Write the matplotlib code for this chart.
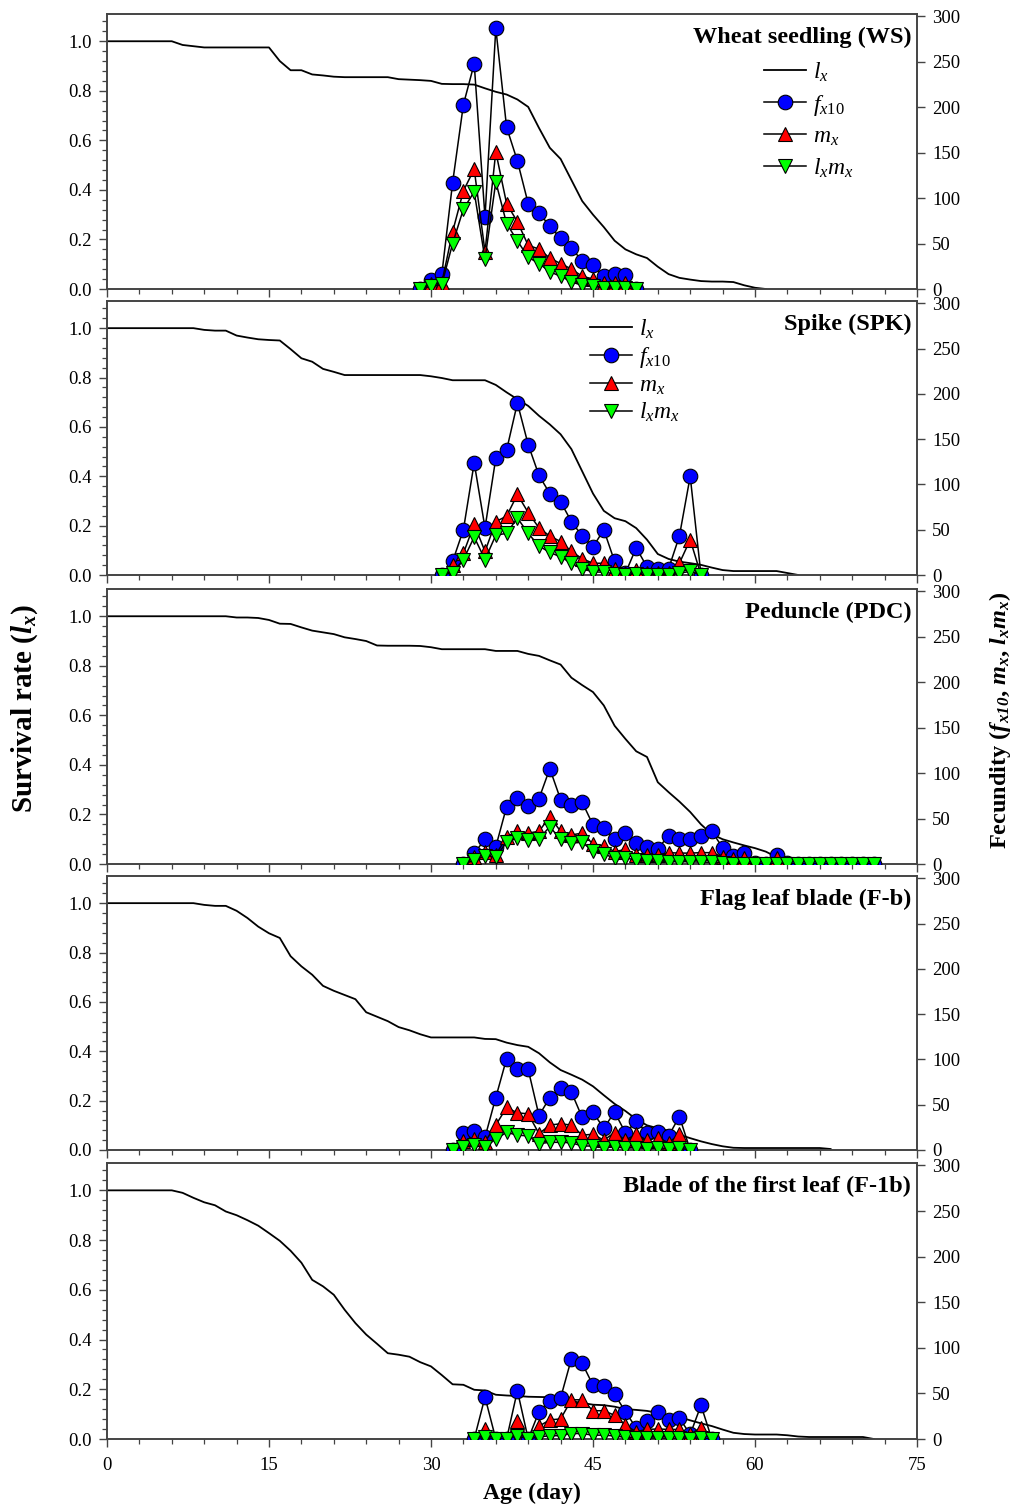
import numpy as np
import matplotlib
matplotlib.use('Agg')
import matplotlib.pyplot as plt
from matplotlib.ticker import MultipleLocator, FormatStrFormatter

# ---------------- data ----------------
titles = ["Wheat seedling (WS)", "Spike (SPK)", "Peduncle (PDC)",
          "Flag leaf blade (F-b)", "Blade of the first leaf (F-1b)"]

# survival rate l_x, one value per day starting at day 0
ws_lx = [1.0, 1.0, 1.0, 1.0, 1.0, 1.0, 1.0, 0.985, 0.98, 0.975,
         0.975, 0.975, 0.975, 0.975, 0.975, 0.975, 0.92, 0.883, 0.883, 0.866,
         0.862, 0.857, 0.855, 0.855, 0.855, 0.855, 0.855, 0.847, 0.845, 0.843,
         0.84, 0.828, 0.827, 0.827, 0.825, 0.81, 0.796, 0.785, 0.765, 0.735,
         0.65, 0.57, 0.525, 0.44, 0.355, 0.30, 0.25, 0.195, 0.16, 0.14,
         0.125, 0.09, 0.06, 0.045, 0.038, 0.032, 0.03, 0.03, 0.028, 0.015,
         0.005, 0.0]
spk_lx = [1.0, 1.0, 1.0, 1.0, 1.0, 1.0, 1.0, 1.0, 1.0, 0.993,
          0.99, 0.99, 0.97, 0.962, 0.955, 0.952, 0.95, 0.915, 0.878, 0.864,
          0.835, 0.823, 0.81, 0.81, 0.81, 0.81, 0.81, 0.81, 0.81, 0.81,
          0.805, 0.798, 0.789, 0.789, 0.789, 0.789, 0.77, 0.74, 0.712, 0.685,
          0.645, 0.61, 0.57, 0.51, 0.42, 0.33, 0.26, 0.23, 0.218, 0.19,
          0.143, 0.085, 0.065, 0.054, 0.048, 0.041, 0.03, 0.02, 0.016, 0.016,
          0.016, 0.016, 0.016, 0.008, 0.0]
pdc_lx = [1.0, 1.0, 1.0, 1.0, 1.0, 1.0, 1.0, 1.0, 1.0, 1.0,
          1.0, 1.0, 0.995, 0.995, 0.993, 0.985, 0.97, 0.969, 0.955, 0.942,
          0.935, 0.928, 0.915, 0.908, 0.9, 0.882, 0.881, 0.881, 0.881, 0.88,
          0.875, 0.867, 0.867, 0.867, 0.867, 0.867, 0.86, 0.86, 0.86, 0.848,
          0.84, 0.822, 0.805, 0.752, 0.722, 0.694, 0.64, 0.558, 0.505, 0.455,
          0.432, 0.33, 0.29, 0.252, 0.21, 0.16, 0.12, 0.1, 0.087, 0.075,
          0.064, 0.05, 0.028, 0.008, 0.0]
fb_lx = [1.0, 1.0, 1.0, 1.0, 1.0, 1.0, 1.0, 1.0, 1.0, 0.993,
         0.989, 0.989, 0.969, 0.94, 0.905, 0.878, 0.859, 0.785, 0.744, 0.71,
         0.665, 0.645, 0.628, 0.611, 0.558, 0.54, 0.522, 0.498, 0.485, 0.469,
         0.456, 0.456, 0.456, 0.456, 0.456, 0.45, 0.449, 0.435, 0.425, 0.418,
         0.392, 0.355, 0.324, 0.305, 0.285, 0.258, 0.222, 0.187, 0.158, 0.125,
         0.1, 0.088, 0.078, 0.062, 0.048, 0.035, 0.024, 0.015, 0.009, 0.008,
         0.008, 0.008, 0.008, 0.008, 0.008, 0.008, 0.008, 0.004]
f1b_lx = [1.0, 1.0, 1.0, 1.0, 1.0, 1.0, 1.0, 0.99, 0.97, 0.952,
          0.94, 0.915, 0.9, 0.88, 0.858, 0.828, 0.797, 0.757, 0.709, 0.64,
          0.614, 0.58, 0.52, 0.466, 0.42, 0.383, 0.345, 0.339, 0.331, 0.309,
          0.292, 0.257, 0.22, 0.218, 0.198, 0.195, 0.178, 0.175, 0.173, 0.17,
          0.169, 0.168, 0.166, 0.152, 0.145, 0.138, 0.136, 0.13, 0.12, 0.117,
          0.113, 0.105, 0.095, 0.088, 0.075, 0.063, 0.052, 0.038, 0.025, 0.02,
          0.018, 0.018, 0.018, 0.015, 0.01, 0.008, 0.008, 0.008, 0.008, 0.008,
          0.008, 0.0]

# first day of the fecundity series
ws_start, spk_start, pdc_start, fb_start, f1b_start = 29, 31, 33, 32, 34

ws_fx10 = [0, 10, 16, 117, 203, 248, 79, 287, 178, 141, 94, 84, 69, 56, 45, 31, 26, 14, 17, 15, 0]
ws_mx = [0, 5, 7, 63, 108, 132, 41, 151, 94, 74, 48, 44, 34, 28, 22, 14, 11, 7, 7, 7, 0]
ws_lxmx = [0, 3, 5, 50, 88, 107, 33, 118, 72, 53, 35, 28, 19, 14, 8, 4, 3, 1, 1, 1, 0]

spk_fx10 = [0, 15, 50, 124, 52, 129, 138, 190, 144, 110, 90, 81, 59, 43, 31, 50, 15, 2, 30, 9, 7, 7, 43, 109, 0]
spk_mx = [0, 11, 24, 56, 26, 59, 65, 89, 69, 52, 43, 37, 26, 18, 13, 13, 7, 2.5, 5, 2.5, 2.5, 2.5, 13, 39, 0]
spk_lxmx = [0, 2.5, 17, 42, 17, 44, 46, 63, 46, 32, 25, 20, 13, 7, 3.5, 3, 1.5, 0.5, 1, 0.5, 0.5, 0.5, 2, 4, 0]

pdc_fx10 = [0, 12, 27, 19, 63, 73, 64, 72, 105, 71, 65, 68, 43, 40, 27, 34, 23, 19, 17, 31,
            27, 27, 31, 36, 18, 9, 12, 1, 0, 10, 1, 0, 0, 0, 0, 0, 0, 0, 0]
pdc_mx = [0, 8, 13.6, 10, 30, 36, 34, 36, 52, 36, 32, 34, 22, 20, 13.6, 16, 10, 10, 10, 12.5,
          12, 12, 12.5, 12.5, 8, 6, 7, 1, 0, 7, 1, 0, 0, 0, 0, 0, 0, 0, 0]
pdc_lxmx = [0, 4, 9, 8, 24, 28.5, 26, 28, 41, 27, 23, 24, 14, 11, 6.5, 7, 4, 3, 3, 2.5,
            2.5, 2.5, 2, 2, 1, 0.5, 0.5, 0, 0, 0.3, 0, 0, 0, 0, 0, 0, 0, 0, 0]

fb_fx10 = [0, 19, 21, 14, 58, 101, 89, 89, 38, 58, 68, 64, 36, 41.5, 24, 42, 19, 31.5, 19, 20, 15.6, 37, 0]
fb_mx = [0, 10, 12, 9, 27.5, 47, 41, 40, 18, 27.5, 29, 27.5, 16.4, 17.4, 10.8, 19.3, 10.8, 17.4, 10.8, 13.6, 8, 17.4, 0]
fb_lxmx = [0, 3.7, 5, 3.3, 12, 19.5, 16.4, 15.6, 7, 8.5, 8.5, 8, 4.4, 4.4, 2.6, 3.7, 2, 2.6, 1.5, 2, 1, 2, 0]

f1b_fx10 = [0, 46, 0, 0, 53, 0, 30, 42, 45, 88, 83, 59, 58, 49, 30, 12, 20, 30, 21, 23, 5, 37, 0]
f1b_mx = [0, 10.5, 0, 0, 20, 0, 14, 21, 22, 43, 43, 31, 31, 26, 15, 8, 10.5, 11, 10.5, 10.5, 5, 12.5, 0]
f1b_lxmx = [0, 2, 0, 0, 3.5, 0, 2.4, 3.5, 3.7, 6, 6, 4.2, 4.2, 3.4, 1.8, 0.9, 1.2, 1.2, 1, 0.9, 0.4, 0.8, 0]

lx_all = [ws_lx, spk_lx, pdc_lx, fb_lx, f1b_lx]
starts = [ws_start, spk_start, pdc_start, fb_start, f1b_start]
fx_all = [ws_fx10, spk_fx10, pdc_fx10, fb_fx10, f1b_fx10]
mx_all = [ws_mx, spk_mx, pdc_mx, fb_mx, f1b_mx]
lxmx_all = [ws_lxmx, spk_lxmx, pdc_lxmx, fb_lxmx, f1b_lxmx]

# ---------------- style ----------------
plt.rcParams['font.family'] = ['Liberation Serif', 'DejaVu Serif']
plt.rcParams['mathtext.fontset'] = 'custom'
plt.rcParams['mathtext.rm'] = 'Liberation Serif'
plt.rcParams['mathtext.it'] = 'Liberation Serif:italic'
plt.rcParams['mathtext.bf'] = 'Liberation Serif:bold:italic'

W, H = 1027, 1508
fig = plt.figure(figsize=(W / 100, H / 100), dpi=100)
L, R = 107, 917
boxes = [(14, 289), (301, 575), (589, 864), (876, 1150), (1163, 1439)]
spine_col = '#444444'
tick_fs = 13.5
YTOP = 1.11

lab_lx = r'$l_x$'
lab_fx = r'$f_{x\mathrm{10}}$'
lab_mx = r'$m_x$'
lab_lxmx = r'$l_xm_x$'

for i in range(5):
    top, bot = boxes[i]
    ax = fig.add_axes([L / W, 1 - bot / H, (R - L) / W, (bot - top) / H])
    lx = lx_all[i]
    ax.plot(np.arange(len(lx)), lx, color='k', lw=1.3, label=lab_lx, zorder=2)
    ax.set_xlim(0, 75)
    ax.set_ylim(0, YTOP)
    ax.set_yticks([0, 0.2, 0.4, 0.6, 0.8, 1.0])
    ax.yaxis.set_major_formatter(FormatStrFormatter('%.1f'))
    ax.yaxis.set_minor_locator(MultipleLocator(0.04))
    ax.xaxis.set_major_locator(MultipleLocator(15))
    ax.xaxis.set_minor_locator(MultipleLocator(3))
    ax.tick_params(which='both', direction='out', labelsize=tick_fs, color=spine_col)
    ax.tick_params(which='major', length=6, width=1, pad=5)
    ax.tick_params(which='minor', length=3.5, width=0.9)
    ax.tick_params(axis='x', which='major', pad=7)
    if i < 4:
        ax.tick_params(axis='x', labelbottom=False)

    ax2 = ax.twinx()
    ax2.set_ylim(0, 300 * YTOP / 1.1)
    ax2.set_yticks([0, 50, 100, 150, 200, 250, 300])
    ax2.tick_params(which='both', direction='out', labelsize=tick_fs, color=spine_col)
    ax2.tick_params(which='major', length=6, width=1, pad=5)
    for a in (ax, ax2):
        for s in a.spines.values():
            s.set_color(spine_col)
            s.set_linewidth(1.2)

    days = np.arange(starts[i], starts[i] + len(fx_all[i]))
    h1, = ax2.plot(days, fx_all[i], color='k', lw=1.1, marker='o', ms=10.5,
                   mfc='#0000ff', mec='k', mew=0.8, label=lab_fx, zorder=3)
    h2, = ax2.plot(days, mx_all[i], color='k', lw=1.1, marker='^', ms=10,
                   mfc='#ff0000', mec='k', mew=0.8, label=lab_mx, zorder=4)
    h3, = ax2.plot(days, lxmx_all[i], color='k', lw=1.1, marker='v', ms=10,
                   mfc='#00ff00', mec='k', mew=0.8, label=lab_lxmx, zorder=5)

    ax2.text(0.993, 0.952, titles[i], transform=ax.transAxes, ha='right', va='top',
             fontsize=17.5, fontweight='bold', zorder=10)

    h0 = ax.get_lines()[0]
    if i == 0:
        ax2.legend([h0, h1, h2, h3], [lab_lx, lab_fx, lab_mx, lab_lxmx],
                   loc='upper left', bbox_to_anchor=(0.811, 0.83), frameon=False,
                   fontsize=17, handlelength=1.8, handletextpad=0.3,
                   labelspacing=0.36, borderpad=0, borderaxespad=0)
    if i == 1:
        ax2.legend([h0, h1, h2, h3], [lab_lx, lab_fx, lab_mx, lab_lxmx],
                   loc='upper left', bbox_to_anchor=(0.596, 0.94), frameon=False,
                   fontsize=17, handlelength=1.8, handletextpad=0.3,
                   labelspacing=0.19, borderpad=0, borderaxespad=0)
    if i == 4:
        ax.set_xticks([0, 15, 30, 45, 60, 75])

fig.text(0.024, 0.530, r'Survival rate ($\mathbf{l_x}$)', rotation=90,
         ha='center', va='center', fontsize=21, fontweight='bold')
fig.text(0.974, 0.5225, r'Fecundity ($\mathbf{f_{x10}}$, $\mathbf{m_x}$, $\mathbf{l_xm_x}$)',
         rotation=90, ha='center', va='center', fontsize=17.5, fontweight='bold')
fig.text(0.518, 0.0095, 'Age (day)', ha='center', va='center',
         fontsize=17, fontweight='bold')

fig.savefig('out.png', dpi=100)
